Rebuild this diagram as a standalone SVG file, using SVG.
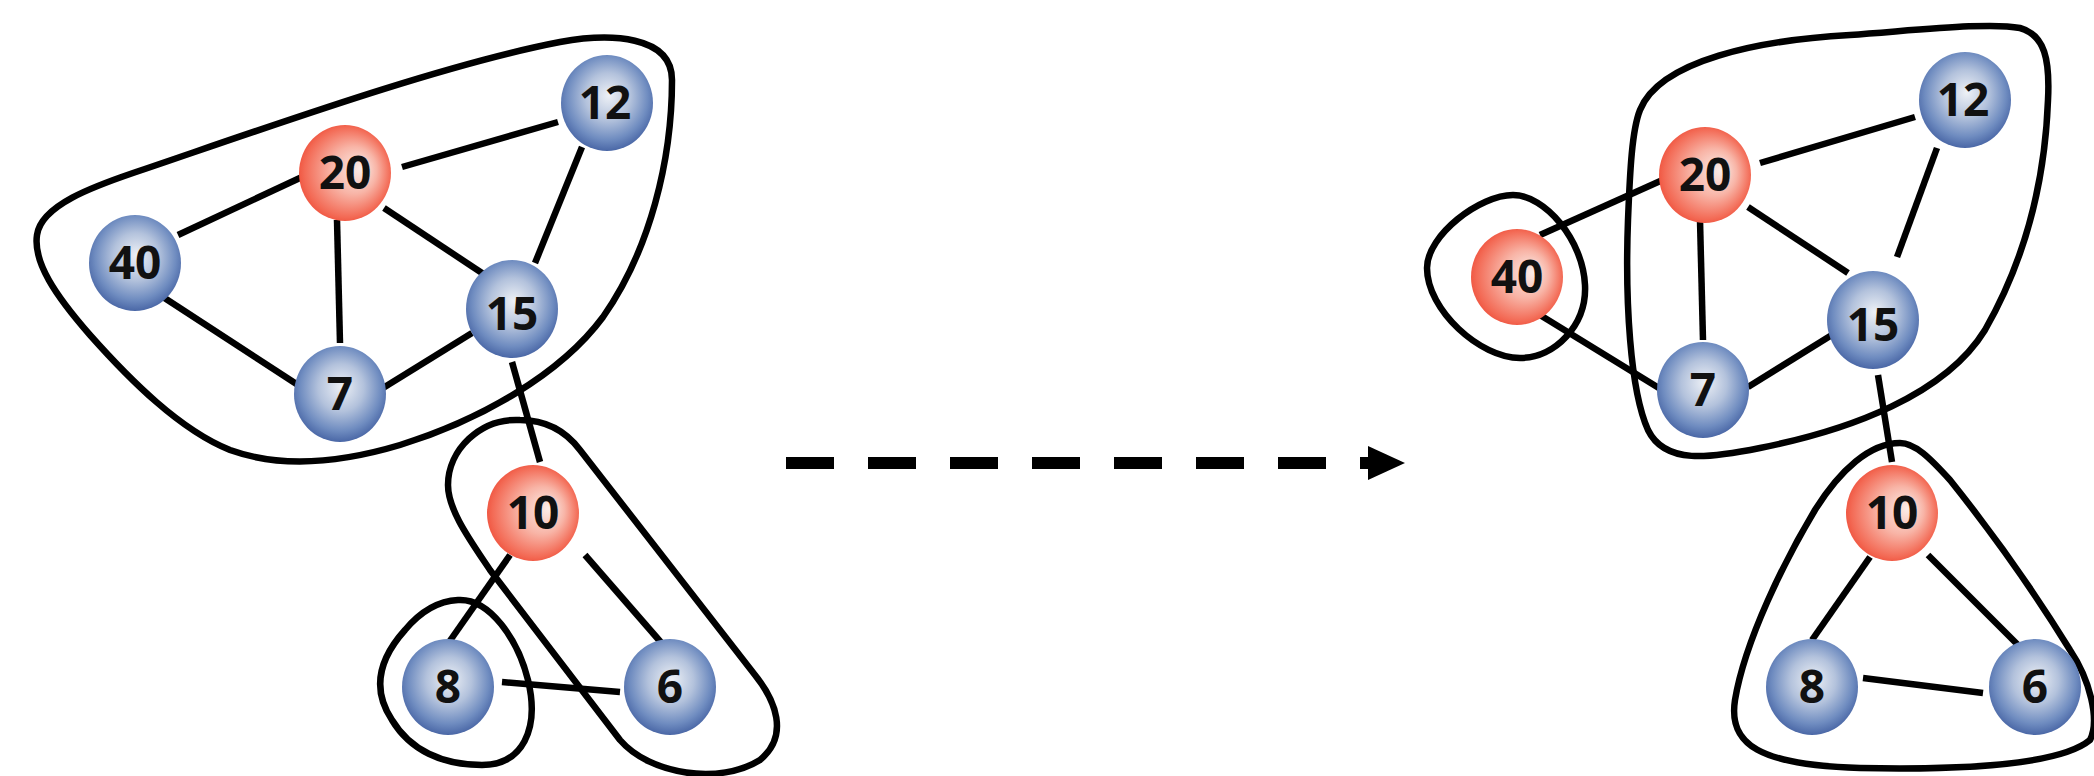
<svg xmlns="http://www.w3.org/2000/svg" width="2094" height="776" viewBox="0 0 2094 776">
<defs>
<radialGradient id="gBlue" cx="50%" cy="45%" r="55%" fx="52%" fy="42%">
<stop offset="0" stop-color="#eef1f6"/>
<stop offset="0.45" stop-color="#b3c2dc"/>
<stop offset="0.8" stop-color="#6f8cc0"/>
<stop offset="1" stop-color="#4a67a6"/>
</radialGradient>
<radialGradient id="gRed" cx="50%" cy="50%" r="55%" fx="68%" fy="45%">
<stop offset="0" stop-color="#fbeeea"/>
<stop offset="0.45" stop-color="#f8b4a6"/>
<stop offset="0.85" stop-color="#f36a55"/>
<stop offset="1" stop-color="#ee4a35"/>
</radialGradient>
<style>
.hull{fill:none;stroke:#000;stroke-width:6.5;stroke-linejoin:round}
.edge{stroke:#000;stroke-width:6.5;stroke-linecap:butt}
.blue{fill:url(#gBlue)}
.red{fill:url(#gRed)}
.lbl{font-family:"Open Sans","Liberation Sans",sans-serif;font-weight:bold;font-size:46px;fill:#111;text-anchor:middle}
</style>
</defs>
<rect width="2094" height="776" fill="#fff"/>

<g id="hulls">
<path class="hull" d="M 133,173 C 260,130 440,65 560,42 C 610,33 672,35 672,80 C 672,160 650,250 603,317 C 560,375 480,420 400,445 C 340,463 280,468 230,450 C 180,430 130,380 90,335 C 55,295 33,262 37,235 C 41,205 95,186 133,173 Z"/>
<path class="hull" d="M 520,420 C 480,418 448,450 448,485 C 448,510 470,540 490,570 L 620,740 C 650,775 720,785 760,760 C 790,735 775,700 755,675 L 580,450 C 565,430 545,420 520,420 Z"/>
<path class="hull" d="M 458,600 C 490,598 518,640 528,680 C 540,730 522,765 482,765 C 442,765 410,750 392,720 C 372,690 378,660 405,630 C 420,612 438,601 458,600 Z"/>
<path class="hull" d="M 1513,195 C 1545,195 1583,240 1585,285 C 1587,325 1555,358 1520,358 C 1480,358 1427,310 1427,268 C 1427,235 1480,195 1513,195 Z"/>
<path class="hull" d="M 1640,110 C 1660,60 1760,40 1850,35 C 1920,30 1990,22 2020,28 C 2045,35 2050,60 2048,100 C 2045,180 2025,260 1985,330 C 1945,395 1850,430 1760,448 C 1710,458 1665,465 1648,430 C 1630,390 1625,300 1628,220 C 1630,170 1632,130 1640,110 Z"/>
<path class="hull" d="M 1900,443 C 1870,443 1840,470 1815,510 C 1785,560 1745,640 1735,700 C 1728,745 1760,765 1860,768 C 1960,770 2060,765 2090,740 C 2100,720 2090,680 2070,650 C 2030,585 1990,530 1950,480 C 1930,458 1915,443 1900,443 Z"/>
</g>

<g id="connectors">
<line class="edge" x1="178" y1="235" x2="302" y2="177"/>
<line class="edge" x1="337" y1="220" x2="340" y2="343"/>
<line class="edge" x1="163" y1="297" x2="298" y2="385"/>
<line class="edge" x1="402" y1="167" x2="558" y2="122"/>
<line class="edge" x1="384" y1="208" x2="485" y2="275"/>
<line class="edge" x1="582" y1="147" x2="535" y2="263"/>
<line class="edge" x1="383" y1="388" x2="472" y2="333"/>
<line class="edge" x1="512" y1="362" x2="540" y2="462"/>
<line class="edge" x1="510" y1="555" x2="447" y2="645"/>
<line class="edge" x1="585" y1="555" x2="665" y2="647"/>
<line class="edge" x1="502" y1="682" x2="620" y2="692"/>

<line class="edge" x1="1540" y1="235" x2="1667" y2="178"/>
<line class="edge" x1="1700" y1="220" x2="1703" y2="340"/>
<line class="edge" x1="1540" y1="315" x2="1667" y2="393"/>
<line class="edge" x1="1760" y1="163" x2="1915" y2="117"/>
<line class="edge" x1="1748" y1="207" x2="1848" y2="273"/>
<line class="edge" x1="1937" y1="148" x2="1897" y2="257"/>
<line class="edge" x1="1748" y1="387" x2="1835" y2="333"/>
<line class="edge" x1="1878" y1="375" x2="1892" y2="462"/>
<line class="edge" x1="1870" y1="557" x2="1812" y2="640"/>
<line class="edge" x1="1928" y1="555" x2="2020" y2="647"/>
<line class="edge" x1="1863" y1="678" x2="1983" y2="693"/>

<line x1="786" y1="463" x2="1370" y2="463" stroke="#000" stroke-width="12" stroke-dasharray="48 34"/>
<polygon points="1368,446 1405,463 1368,480" fill="#000"/>
</g>

<g id="L40"><ellipse class="blue" cx="135" cy="263" rx="46" ry="48"/><text class="lbl" x="135" y="279">40</text></g>
<g id="L20"><ellipse class="red" cx="345" cy="173" rx="46" ry="48"/><text class="lbl" x="345" y="189">20</text></g>
<g id="L7"><ellipse class="blue" cx="340" cy="394" rx="46" ry="48"/><text class="lbl" x="340" y="410">7</text></g>
<g id="L12"><ellipse class="blue" cx="607" cy="103" rx="46" ry="48"/><text class="lbl" x="605" y="119">12</text></g>
<g id="L15"><ellipse class="blue" cx="512" cy="309" rx="46" ry="49"/><text class="lbl" x="512" y="330">15</text></g>
<g id="L10"><ellipse class="red" cx="533" cy="513" rx="46" ry="48"/><text class="lbl" x="533" y="529">10</text></g>
<g id="L8"><ellipse class="blue" cx="448" cy="687" rx="46" ry="48"/><text class="lbl" x="448" y="703">8</text></g>
<g id="L6"><ellipse class="blue" cx="670" cy="687" rx="46" ry="48"/><text class="lbl" x="670" y="703">6</text></g>

<g id="R40"><ellipse class="red" cx="1517" cy="277" rx="46" ry="48"/><text class="lbl" x="1517" y="293">40</text></g>
<g id="R20"><ellipse class="red" cx="1705" cy="175" rx="46" ry="48"/><text class="lbl" x="1705" y="191">20</text></g>
<g id="R7"><ellipse class="blue" cx="1703" cy="390" rx="46" ry="48"/><text class="lbl" x="1703" y="406">7</text></g>
<g id="R12"><ellipse class="blue" cx="1965" cy="100" rx="46" ry="48"/><text class="lbl" x="1963" y="116">12</text></g>
<g id="R15"><ellipse class="blue" cx="1873" cy="320" rx="46" ry="49"/><text class="lbl" x="1873" y="341">15</text></g>
<g id="R10"><ellipse class="red" cx="1892" cy="513" rx="46" ry="48"/><text class="lbl" x="1892" y="529">10</text></g>
<g id="R8"><ellipse class="blue" cx="1812" cy="687" rx="46" ry="48"/><text class="lbl" x="1812" y="703">8</text></g>
<g id="R6"><ellipse class="blue" cx="2035" cy="687" rx="46" ry="48"/><text class="lbl" x="2035" y="703">6</text></g>
</svg>
